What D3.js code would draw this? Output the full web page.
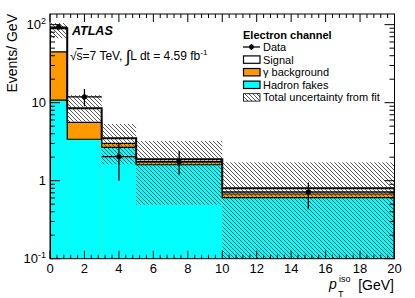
<!DOCTYPE html>
<html>
<head>
<meta charset="utf-8">
<script src="https://cdn.jsdelivr.net/npm/d3@7"></script>
<style>
  body { margin: 0; background: #fff; }
  text { font-family: "Liberation Sans", Arial, sans-serif; }
</style>
</head>
<body>
<script>
// bins of p_T^iso [GeV]
var binLo = [0, 1, 3, 5, 10];
var binHi = [1, 3, 5, 10, 20];

// stacked components, Events/GeV
var hadronFakes = [10.8, 3.4, 2.68, 1.6, 0.605];
var gammaBkg    = [34, 2.2, 0.32, 0.15, 0.07];
var signal      = [45, 2.9, 0.5, 0.13, 0.125];

// total uncertainty band from fit
var uncLo = [67, 5.7, 1.62, 0.49, 0.05];
var uncHi = [105, 12.5, 5.33, 3.23, 1.72];

// data points
var dataX   = [0.5, 2, 4, 7.5, 15];
var dataY   = [93, 11.9, 2.03, 1.75, 0.716];
var dataErrLo = [88, 9.0, 1.0, 1.2, 0.43];
var dataErrHi = [98, 15.0, 3.05, 2.4, 0.95];

var xTicks = [0, 2, 4, 6, 8, 10, 12, 14, 16, 18, 20];
var yTicks = [0.1, 1, 10, 100];
var yTickLabels = [["10", "-1"], ["1", ""], ["10", ""], ["10", "2"]];

var legendItems = [
  {name: "Data", type: "data"},
  {name: "Signal", type: "box", fill: "#ffffff"},
  {name: "\u03b3 background", type: "box", fill: "#ff9900"},
  {name: "Hadron fakes", type: "box", fill: "#00ffff"},
  {name: "Total uncertainty from fit", type: "hatch"}
];

var margin = {top: 14, right: 20.5, bottom: 39.3, left: 50},
    width = 415 - margin.left - margin.right,
    height = 298 - margin.top - margin.bottom;

var x = d3.scaleLinear().domain([0, 20]).range([0, width]);
var y = d3.scaleLog().domain([0.1, 137]).range([height, 0]);

var root = d3.select("body").append("svg")
    .attr("width", 415)
    .attr("height", 298);

var defs = root.append("defs");
defs.append("pattern")
    .attr("id", "hatch")
    .attr("patternUnits", "userSpaceOnUse")
    .attr("width", 4)
    .attr("height", 4)
    .append("path")
    .attr("d", "M-1,-1 L5,5 M3,-1 L5,1 M-1,3 L1,5")
    .attr("stroke", "#333")
    .attr("stroke-width", 0.8);
defs.append("clipPath")
    .attr("id", "plotclip")
    .append("rect")
    .attr("width", width)
    .attr("height", height);

var svg = root.append("g")
    .attr("transform", "translate(" + margin.left + "," + margin.top + ")");

var plot = svg.append("g").attr("clip-path", "url(#plotclip)");

// cumulative stack tops
var bins = binLo.map(function(lo, i) {
  var t1 = hadronFakes[i];
  var t2 = t1 + gammaBkg[i];
  var t3 = t2 + signal[i];
  return {lo: lo, hi: binHi[i], fakes: t1, gamma: t2, sig: t3};
});

var layers = [
  {key: "sig", fill: "#ffffff"},
  {key: "gamma", fill: "#ff9900"},
  {key: "fakes", fill: "#00ffff"}
];

layers.forEach(function(l) {
  plot.selectAll(".bar-" + l.key)
      .data(bins)
      .enter()
      .append("rect")
      .attr("x", function(d) { return x(d.lo); })
      .attr("width", function(d) { return x(d.hi) - x(d.lo); })
      .attr("y", function(d) { return y(d[l.key]); })
      .attr("height", function(d) { return height - y(d[l.key]); })
      .attr("fill", l.fill);
});

// step outlines of each histogram
function stepPath(key) {
  var p = "M" + x(bins[0].lo) + "," + height;
  bins.forEach(function(d) {
    p += "L" + x(d.lo) + "," + y(d[key]) + "L" + x(d.hi) + "," + y(d[key]);
  });
  p += "L" + x(bins[bins.length - 1].hi) + "," + height;
  return p;
}
["fakes", "gamma", "sig"].forEach(function(k) {
  plot.append("path")
      .attr("d", stepPath(k))
      .attr("fill", "none")
      .attr("stroke", "#000")
      .attr("stroke-width", k == "sig" ? 2 : 1.2);
});

// uncertainty band
plot.selectAll(".unc")
    .data(binLo)
    .enter()
    .append("rect")
    .attr("x", function(d, i) { return x(binLo[i]); })
    .attr("width", function(d, i) { return x(binHi[i]) - x(binLo[i]); })
    .attr("y", function(d, i) { return y(uncHi[i]); })
    .attr("height", function(d, i) { return y(uncLo[i]) - y(uncHi[i]); })
    .attr("fill", "url(#hatch)");

// data points
dataX.forEach(function(dx, i) {
  plot.append("line")
      .attr("x1", x(binLo[i])).attr("x2", x(binHi[i]))
      .attr("y1", y(dataY[i])).attr("y2", y(dataY[i]))
      .attr("stroke", "#000").attr("stroke-width", 1.3);
  plot.append("line")
      .attr("x1", x(dx)).attr("x2", x(dx))
      .attr("y1", y(dataErrLo[i])).attr("y2", y(dataErrHi[i]))
      .attr("stroke", "#000").attr("stroke-width", 1.3);
  plot.append("circle")
      .attr("cx", x(dx)).attr("cy", y(dataY[i]))
      .attr("r", 2.6).attr("fill", "#000");
});

// frame
svg.append("rect")
    .attr("width", width)
    .attr("height", height)
    .attr("fill", "none")
    .attr("stroke", "#000")
    .attr("stroke-width", 1);

// x ticks (bottom and top), minor every 0.4
var ticks = svg.append("g").attr("stroke", "#000").attr("stroke-width", 1);
d3.range(0, 20.001, 0.4).forEach(function(v) {
  var major = Math.abs(v / 2 - Math.round(v / 2)) < 1e-6;
  var len = major ? 8 : 4;
  ticks.append("line").attr("x1", x(v)).attr("x2", x(v))
      .attr("y1", height).attr("y2", height - len);
  ticks.append("line").attr("x1", x(v)).attr("x2", x(v))
      .attr("y1", 0).attr("y2", len);
});

// y ticks (left and right), log minors
[0.1, 1, 10, 100].forEach(function(dec) {
  for (var k = 1; k < 10; k++) {
    var v = dec * k;
    if (v > 137) break;
    var len = k == 1 ? 10 : 5;
    ticks.append("line").attr("x1", 0).attr("x2", len)
        .attr("y1", y(v)).attr("y2", y(v));
    ticks.append("line").attr("x1", width).attr("x2", width - len)
        .attr("y1", y(v)).attr("y2", y(v));
  }
});

// tick labels
svg.selectAll(".xlab")
    .data(xTicks)
    .enter()
    .append("text")
    .attr("x", function(d) { return x(d); })
    .attr("y", height + 14)
    .attr("text-anchor", "middle")
    .style("font-size", "13px")
    .text(function(d) { return d; });

yTicks.forEach(function(v, i) {
  var t = svg.append("text")
      .attr("x", -4)
      .attr("y", y(v) + 4.5)
      .attr("text-anchor", "end")
      .style("font-size", "13px");
  t.append("tspan").text(yTickLabels[i][0]);
  if (yTickLabels[i][1] != "") {
    t.append("tspan")
        .attr("dy", -5)
        .style("font-size", "9px")
        .text(yTickLabels[i][1]);
  }
});

// axis titles
root.append("text")
    .attr("transform", "translate(17,14) rotate(-90)")
    .attr("text-anchor", "end")
    .style("font-size", "14px")
    .text("Events/ GeV");

root.append("text")
    .attr("x", 394).attr("y", 290)
    .attr("text-anchor", "end")
    .style("font-size", "14px")
    .text("[GeV]");
root.append("text")
    .attr("x", 329).attr("y", 289)
    .style("font-size", "14px")
    .style("font-style", "italic")
    .text("p");
root.append("text")
    .attr("x", 339).attr("y", 282)
    .style("font-size", "9px")
    .text("iso");
root.append("text")
    .attr("x", 338).attr("y", 297)
    .style("font-size", "9px")
    .text("T");

// ATLAS label and energy / luminosity
root.append("text")
    .attr("x", 72).attr("y", 35)
    .style("font-size", "12.5px")
    .style("font-weight", "bold")
    .style("font-style", "italic")
    .text("ATLAS");

var lumi = root.append("text")
    .attr("x", 70).attr("y", 60)
    .style("font-size", "12px");
lumi.append("tspan").text("\u221a");
lumi.append("tspan").style("text-decoration", "overline").text("s");
lumi.append("tspan").text("=7 TeV, ");
lumi.append("tspan").style("font-size", "17px").attr("dy", 2).text("\u222b");
lumi.append("tspan").attr("dy", -2).text("L dt = 4.59 fb");
lumi.append("tspan").attr("dy", -5).style("font-size", "8px").text("-1");

// legend
var leg = root.append("g").attr("transform", "translate(243,0)");
leg.append("text")
    .attr("x", 0).attr("y", 39)
    .style("font-size", "11px")
    .style("font-weight", "bold")
    .text("Electron channel");

legendItems.forEach(function(d, i) {
  var cy = 47 + i * 12.6;
  var g = leg.append("g");
  if (d.type == "data") {
    g.append("line").attr("x1", 0).attr("x2", 17).attr("y1", cy).attr("y2", cy)
        .attr("stroke", "#000").attr("stroke-width", 1.3);
    g.append("line").attr("x1", 8.5).attr("x2", 8.5).attr("y1", cy - 3).attr("y2", cy + 3)
        .attr("stroke", "#000").attr("stroke-width", 1.3);
    g.append("circle").attr("cx", 8.5).attr("cy", cy).attr("r", 2.4).attr("fill", "#000");
  } else {
    g.append("rect")
        .attr("x", 0.5).attr("y", cy - 3.7)
        .attr("width", 16.5).attr("height", 7.4)
        .attr("fill", d.type == "hatch" ? "url(#hatch)" : d.fill)
        .attr("stroke", "#000")
        .attr("stroke-width", d.type == "hatch" ? 0.8 : 1.2);
  }
  g.append("text")
      .attr("x", 20).attr("y", cy + 4)
      .style("font-size", "11px")
      .text(d.name);
});
</script>
</body>
</html>
